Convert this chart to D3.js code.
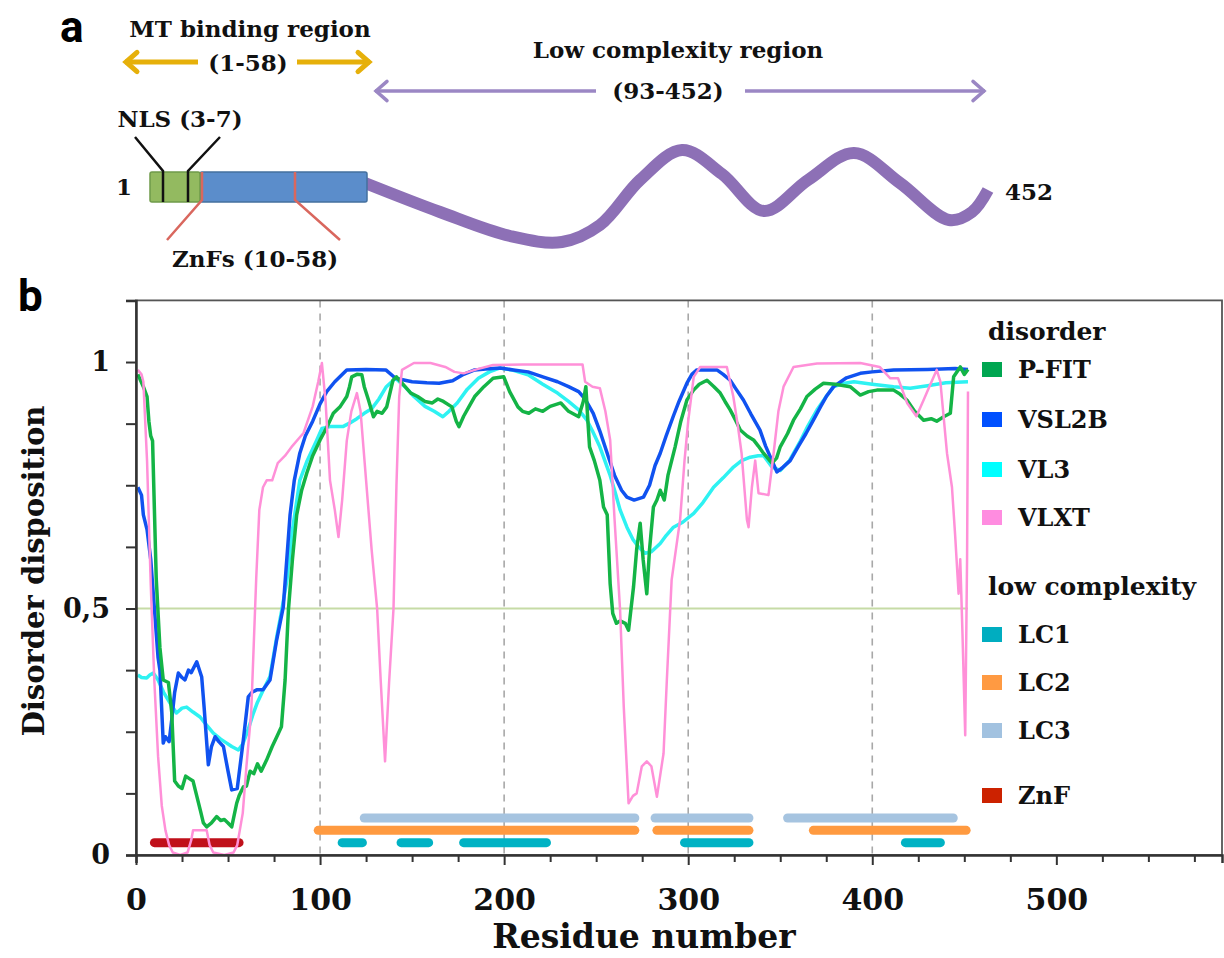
<!DOCTYPE html>
<html>
<head>
<meta charset="utf-8">
<script src="https://cdn.jsdelivr.net/npm/d3@7"></script>
<style>
  body { margin: 0; background: #fff; }
  svg { display: block; }
  .serif { font-family: "DejaVu Serif", serif; font-weight: bold; fill: #111; }
</style>
</head>
<body>
<div id="chart"></div>
<script>
// canvas
const width = 1224;
const height = 958;

// ---- data ----
// disorder predictors: [residue, disorder score]
const pfit = [[1,0.975],[4,0.95],[6,0.93],[7,0.88],[8,0.85],[9,0.84],[10,0.7],[11,0.56],[13,0.42],[14.8,0.355],[17.6,0.35],[19.4,0.29],[21,0.15],[23,0.14],[25,0.135],[27,0.16],[29,0.155],[31,0.15],[33,0.12],[35,0.09],[36.6,0.065],[38.4,0.057],[41,0.065],[43.8,0.078],[46,0.07],[48,0.072],[50,0.065],[52,0.057],[54.7,0.105],[56,0.12],[58.3,0.138],[60,0.14],[62,0.17],[64,0.165],[66,0.185],[68,0.17],[71,0.193],[74,0.22],[76.5,0.24],[79,0.26],[81,0.355],[82.8,0.497],[85,0.6],[87.3,0.69],[90,0.74],[92.8,0.775],[96,0.81],[100,0.842],[104,0.87],[107.2,0.896],[111,0.91],[114.5,0.93],[116,0.95],[117.2,0.97],[120,0.975],[122.7,0.974],[124,0.95],[126.3,0.923],[129,0.889],[131,0.9],[133.7,0.896],[136.2,0.909],[139.6,0.963],[141.5,0.97],[145,0.955],[149.3,0.937],[153,0.93],[157,0.92],[161,0.917],[164,0.925],[167,0.92],[171.6,0.909],[174,0.88],[175.5,0.869],[178,0.89],[181,0.91],[184,0.93],[189,0.95],[194,0.967],[199.8,0.97],[203,0.94],[207.5,0.909],[210,0.9],[213.4,0.896],[217,0.905],[221,0.9],[225,0.91],[230.8,0.917],[235,0.9],[240.5,0.889],[243,0.92],[244.4,0.95],[245.5,0.88],[246.4,0.828],[249,0.8],[252,0.76],[254,0.706],[256,0.69],[257.6,0.55],[259,0.49],[261,0.47],[263,0.475],[265.8,0.47],[267.6,0.456],[270.3,0.544],[272,0.62],[273.9,0.673],[275.5,0.6],[277.5,0.53],[279,0.62],[281.1,0.706],[283,0.72],[284.8,0.74],[287,0.72],[289,0.77],[292.9,0.828],[296,0.88],[299.3,0.923],[302.9,0.943],[306,0.955],[310.2,0.963],[314,0.95],[317.4,0.937],[320,0.92],[322.8,0.903],[326,0.88],[328.3,0.862],[332,0.85],[335.5,0.842],[338,0.83],[340.9,0.815],[345.5,0.795],[348,0.805],[350,0.828],[354,0.855],[357.2,0.882],[361,0.905],[364.5,0.93],[369,0.945],[373.5,0.957],[380,0.955],[388,0.95],[393.5,0.933],[398,0.94],[402.5,0.943],[411.6,0.943],[415,0.935],[418.8,0.923],[423,0.9],[427.9,0.882],[432,0.885],[435,0.88],[438.8,0.889],[442.4,0.896],[444.2,0.97],[447.8,0.99],[450,0.975],[452,0.985]];

const vsl2b = [[1,0.746],[3,0.73],[4,0.69],[6,0.66],[8,0.6],[10,0.5],[12,0.4],[13,0.375],[14.8,0.227],[16,0.24],[18,0.23],[19.4,0.274],[21,0.33],[23,0.369],[25,0.36],[26.6,0.355],[28.5,0.375],[30,0.37],[33,0.392],[35.7,0.361],[37,0.3],[39.3,0.183],[41,0.22],[43,0.24],[45,0.23],[47.5,0.22],[50,0.17],[52,0.132],[55,0.135],[58.3,0.233],[61,0.321],[63,0.33],[65.6,0.335],[69,0.335],[72.8,0.355],[76.4,0.436],[80,0.503],[83.7,0.69],[86,0.76],[89,0.815],[92,0.85],[96,0.88],[100,0.915],[103.6,0.94],[108,0.96],[114.5,0.984],[125,0.985],[135.7,0.984],[141,0.967],[150,0.96],[158,0.958],[164.7,0.957],[172,0.962],[178,0.975],[184,0.984],[190,0.986],[197.8,0.988],[205,0.984],[213,0.98],[221,0.97],[229,0.96],[235,0.95],[240.5,0.94],[244,0.925],[248.4,0.896],[252,0.86],[256,0.815],[260,0.77],[263.8,0.74],[266.7,0.726],[270.6,0.72],[275.7,0.726],[279,0.75],[282,0.79],[284.8,0.815],[288,0.85],[291.9,0.89],[295,0.92],[299.3,0.957],[302,0.975],[304.7,0.984],[315.6,0.984],[319,0.975],[322.8,0.963],[326,0.945],[330,0.923],[334,0.895],[339,0.862],[342,0.83],[345.5,0.8],[348.2,0.777],[351,0.785],[355.4,0.8],[360,0.83],[364,0.855],[368,0.882],[372,0.91],[375,0.93],[379,0.95],[386,0.968],[393.5,0.977],[400,0.98],[411.6,0.984],[430,0.985],[445,0.987],[452,0.985]];

const vl3 = [[1,0.365],[3,0.36],[5.8,0.359],[7.5,0.365],[9.4,0.369],[12,0.355],[15,0.33],[18.5,0.308],[22,0.288],[25,0.298],[27.5,0.3],[31,0.29],[34.8,0.28],[38,0.265],[42,0.247],[46,0.235],[49.3,0.227],[52,0.22],[55.6,0.213],[58,0.225],[61,0.255],[63.8,0.288],[66,0.31],[69.2,0.335],[72.8,0.362],[76.5,0.443],[79.2,0.497],[82,0.558],[85,0.66],[89,0.76],[93,0.8],[98,0.84],[101,0.865],[105.4,0.869],[112.4,0.869],[116,0.876],[120,0.885],[124,0.896],[128,0.905],[132,0.925],[136,0.95],[141,0.967],[146,0.95],[151,0.93],[157,0.91],[162,0.9],[166.7,0.889],[170,0.9],[174.5,0.917],[180,0.945],[186,0.967],[192,0.98],[197.8,0.988],[205,0.983],[213,0.974],[221,0.955],[229,0.937],[235,0.92],[240.5,0.903],[245,0.882],[248,0.86],[252,0.828],[257.6,0.77],[260,0.74],[263,0.7],[266.7,0.665],[270,0.64],[273,0.625],[276.6,0.612],[280,0.615],[284.8,0.632],[288,0.648],[292,0.665],[297,0.675],[303,0.693],[308,0.715],[313.8,0.746],[319,0.765],[324.6,0.787],[329,0.8],[333.7,0.807],[338,0.81],[341,0.81],[343,0.8],[345.5,0.787],[350,0.78],[355,0.8],[361,0.84],[365,0.87],[370,0.903],[375,0.93],[379,0.95],[385,0.957],[390,0.96],[400,0.955],[411.6,0.95],[420.6,0.947],[430,0.952],[440,0.958],[452,0.96]];

const vlxt = [[1,0.984],[3,0.975],[4,0.96],[6,0.8],[8,0.55],[10,0.35],[12,0.2],[14,0.1],[16,0.05],[18,0.02],[20,0.005],[24,0.0],[28,0.005],[30,0.03],[31,0.05],[35,0.05],[38.4,0.05],[40,0.02],[42,0.005],[48,0.0],[53,0.005],[55,0.02],[58,0.085],[60,0.18],[62.6,0.29],[65.3,0.56],[67,0.7],[69,0.746],[71,0.76],[74,0.76],[77,0.795],[81,0.81],[85,0.83],[91,0.856],[96,0.91],[99,0.96],[101,0.998],[103,0.92],[105.4,0.76],[108,0.7],[110,0.645],[112,0.72],[114.5,0.84],[117,0.9],[120,0.937],[122,0.9],[125,0.76],[128,0.62],[131,0.5],[133,0.35],[135.3,0.19],[137.5,0.35],[139.9,0.5],[141.5,0.75],[143,0.93],[144.5,0.984],[151,0.998],[160,0.998],[168,0.99],[173,0.98],[178,0.977],[185,0.985],[194,0.994],[210,0.995],[230,0.995],[242.6,0.995],[244,0.96],[248,0.95],[252,0.947],[255,0.9],[257.6,0.842],[260,0.68],[263,0.497],[265,0.3],[267.6,0.105],[270,0.12],[272,0.125],[274.8,0.18],[277.5,0.19],[280,0.18],[283,0.118],[286.6,0.206],[288.4,0.355],[291,0.558],[295.6,0.68],[298,0.8],[300,0.88],[303,0.97],[306.5,0.99],[321,0.99],[324.5,0.93],[327,0.87],[329,0.815],[331.9,0.68],[332.8,0.665],[334.6,0.746],[336.4,0.8],[338.2,0.734],[343.6,0.73],[346.4,0.815],[349,0.9],[351.8,0.95],[357.2,0.99],[370,0.997],[393.5,0.998],[404,0.99],[409.8,0.967],[414,0.967],[418.9,0.917],[424,0.89],[427.9,0.923],[431,0.95],[435,0.984],[437,0.96],[440.6,0.815],[443.3,0.746],[445,0.65],[446.9,0.53],[447.8,0.6],[449,0.45],[450.5,0.243],[451.5,0.6],[452,0.94]];

// low complexity / ZnF segments: [start, end] residues
const lc1Segments = [[112,123],[144,159],[178,223],[298,333],[418,437]];
const lc2Segments = [[99,271],[283,333],[368,451]];
const lc3Segments = [[124,271],[282,333],[354,444]];
const znfSegments = [[10,56]];
// level each segment row sits at
const segLevels = { LC1: 0.025, LC2: 0.05, LC3: 0.075, ZnF: 0.025 };

const disorderNames = ["P-FIT", "VSL2B", "VL3", "VLXT"];
const complexityNames = ["LC1", "LC2", "LC3"];

const xTicks = d3.range(0, 576, 25);
const xLabels = [0, 100, 200, 300, 400, 500];
const yTicks = d3.range(0, 1.126, 0.125);
const yLabels = { 0: "0", 0.5: "0,5", 1: "1" };
const gridResidues = [100, 200, 300, 400];
const threshold = 0.5;
const proteinLength = 452;

const lineColors = { "P-FIT": "#14b446", "VSL2B": "#1052f0", "VL3": "#2ef2f2", "VLXT": "#ff90d8" };
const swatchColors = { "P-FIT": "#00a651", "VSL2B": "#0050ff", "VL3": "#00ffff", "VLXT": "#ff8ce0",
                       "LC1": "#00adc0", "LC2": "#ff9a42", "LC3": "#a2c2e0", "ZnF": "#cc2200" };
const segColors = { LC1: "#00b2c4", LC2: "#ff9a40", LC3: "#a6c4e0", ZnF: "#c0101a" };

const svg = d3.select("#chart").append("svg")
  .attr("width", width)
  .attr("height", height);

svg.append("rect").attr("width", width).attr("height", height).attr("fill", "#fff");

// ================= panel a: schematic =================
const pa = svg.append("g");

pa.append("text").attr("x", 60).attr("y", 42)
  .style("font-family", "Roboto, sans-serif").style("font-weight", "bold")
  .style("font-size", "44px").text("a");

function arrow(g, x1, x2, gapL, gapR, yy, color, sw, head) {
  g.append("line").attr("x1", x1).attr("x2", gapL).attr("y1", yy).attr("y2", yy)
    .attr("stroke", color).attr("stroke-width", sw);
  g.append("line").attr("x1", gapR).attr("x2", x2).attr("y1", yy).attr("y2", yy)
    .attr("stroke", color).attr("stroke-width", sw);
  g.append("path").attr("d", `M${x1 + head},${yy - head * 0.8} L${x1 + 1},${yy} L${x1 + head},${yy + head * 0.8}`)
    .attr("fill", "none").attr("stroke", color).attr("stroke-width", sw).attr("stroke-linecap", "round");
  g.append("path").attr("d", `M${x2 - head},${yy - head * 0.8} L${x2 - 1},${yy} L${x2 - head},${yy + head * 0.8}`)
    .attr("fill", "none").attr("stroke", color).attr("stroke-width", sw).attr("stroke-linecap", "round");
}

pa.append("text").attr("class", "serif").attr("x", 250).attr("y", 37)
  .attr("text-anchor", "middle").style("font-size", "23px").text("MT binding region");
pa.append("text").attr("class", "serif").attr("x", 248).attr("y", 71)
  .attr("text-anchor", "middle").style("font-size", "23px").text("(1-58)");
arrow(pa, 125, 370, 198, 297, 62, "#e6b00a", 5, 12);

pa.append("text").attr("class", "serif").attr("x", 678).attr("y", 58)
  .attr("text-anchor", "middle").style("font-size", "23px").text("Low complexity region");
pa.append("text").attr("class", "serif").attr("x", 668).attr("y", 99)
  .attr("text-anchor", "middle").style("font-size", "23px").text("(93-452)");
arrow(pa, 375, 985, 596, 745, 91, "#9b87c4", 3.5, 12);

// disordered tail
const wave = [[365,183],[440,212],[510,236],[562,242],[600,225],[640,180],[682,150],[722,174],
              [764,211],[808,180],[854,153],[900,183],[949,220],[972,212],[988,190]];
pa.append("path")
  .attr("d", d3.line().curve(d3.curveCatmullRom)(wave))
  .attr("fill", "none").attr("stroke", "#8d70b6").attr("stroke-width", 12);

// folded N-terminus
pa.append("rect").attr("x", 200).attr("y", 172).attr("width", 167).attr("height", 30)
  .attr("fill", "#5b8dcb").attr("stroke", "#44709f").attr("stroke-width", 1.5).attr("rx", 2);
pa.append("rect").attr("x", 150).attr("y", 172).attr("width", 50).attr("height", 30)
  .attr("fill", "#93ba60").attr("stroke", "#6f9a4a").attr("stroke-width", 1.5).attr("rx", 2);

// NLS marks
pa.append("path").attr("d", "M135,137 L163,171 L163,202 M220,137 L188,171 L188,202")
  .attr("fill", "none").attr("stroke", "#111").attr("stroke-width", 2.5);
// ZnF marks
pa.append("path").attr("d", "M202,172 L202,200 L167,240 M295,172 L295,200 L340,240")
  .attr("fill", "none").attr("stroke", "#d9675e").attr("stroke-width", 2.5);

pa.append("text").attr("class", "serif").attr("x", 180).attr("y", 127)
  .attr("text-anchor", "middle").style("font-size", "23px").text("NLS (3-7)");
pa.append("text").attr("class", "serif").attr("x", 255).attr("y", 267)
  .attr("text-anchor", "middle").style("font-size", "23px").text("ZnFs (10-58)");
pa.append("text").attr("class", "serif").attr("x", 132).attr("y", 195)
  .attr("text-anchor", "end").style("font-size", "23px").text("1");
pa.append("text").attr("class", "serif").attr("x", 1005).attr("y", 200)
  .style("font-size", "23px").text("452");

// ================= panel b: disorder plot =================
svg.append("text").attr("x", 18).attr("y", 311)
  .style("font-family", "Roboto, sans-serif").style("font-weight", "bold")
  .style("font-size", "44px").text("b");

const x = d3.scaleLinear().domain([0, 590]).range([136, 1222]);
const y = d3.scaleLinear().domain([0, 1.125]).range([855, 300.4]);

// vertical dashed grid
svg.append("g").selectAll("line").data(gridResidues).join("line")
  .attr("x1", d => x(d)).attr("x2", d => x(d))
  .attr("y1", y(1.125)).attr("y2", y(0))
  .attr("stroke", "#a8a8a8").attr("stroke-width", 1.6).attr("stroke-dasharray", "7,6");

// 0.5 threshold
svg.append("line")
  .attr("x1", x(0)).attr("x2", x(proteinLength))
  .attr("y1", y(threshold)).attr("y2", y(threshold))
  .attr("stroke", "#c6dba6").attr("stroke-width", 2.2);

// segments
const segRows = [["LC3", lc3Segments], ["LC2", lc2Segments], ["LC1", lc1Segments], ["ZnF", znfSegments]];
segRows.forEach(([name, segs]) => {
  svg.append("g").selectAll("line").data(segs).join("line")
    .attr("x1", d => x(d[0])).attr("x2", d => x(d[1]))
    .attr("y1", y(segLevels[name])).attr("y2", y(segLevels[name]))
    .attr("stroke", segColors[name]).attr("stroke-width", 9).attr("stroke-linecap", "round");
});

// disorder curves
const line = d3.line().x(d => x(d[0])).y(d => y(d[1]));
const series = [["VL3", vl3, 3.5], ["VSL2B", vsl2b, 3.5], ["P-FIT", pfit, 3.5], ["VLXT", vlxt, 2.5]];
series.forEach(([name, data, sw]) => {
  svg.append("path").datum(data)
    .attr("d", line)
    .attr("fill", "none")
    .attr("stroke", lineColors[name])
    .attr("stroke-width", sw)
    .attr("stroke-linejoin", "round");
});

// frame
svg.append("rect")
  .attr("x", x(0)).attr("y", y(1.125))
  .attr("width", x(590) - x(0)).attr("height", y(0) - y(1.125))
  .attr("fill", "none").attr("stroke", "#555").attr("stroke-width", 1.8);

// axes
const xAxis = svg.append("g").attr("transform", `translate(0,${y(0)})`)
  .call(d3.axisBottom(x).tickValues(xTicks).tickSize(8)
    .tickFormat(d => xLabels.includes(d) ? d : ""));
xAxis.select(".domain").attr("stroke", "#333").attr("stroke-width", 2.5);
xAxis.selectAll(".tick line").attr("stroke", "#333").attr("stroke-width", 2)
  .attr("y2", d => d % 100 === 0 ? 10 : 7);
xAxis.selectAll("text").attr("class", "serif").attr("y", 55).attr("dy", 0)
  .style("font-size", "30px").attr("fill", "#111");

const yAxis = svg.append("g").attr("transform", `translate(${x(0)},0)`)
  .call(d3.axisLeft(y).tickValues(yTicks).tickSize(10)
    .tickFormat(d => yLabels[d] !== undefined ? yLabels[d] : ""));
yAxis.select(".domain").attr("stroke", "#333").attr("stroke-width", 2.5);
yAxis.selectAll(".tick line").attr("stroke", "#333").attr("stroke-width", 2);
yAxis.selectAll("text").attr("class", "serif").attr("x", -26)
  .style("font-size", "27px").attr("fill", "#111");

svg.append("text").attr("class", "serif")
  .attr("x", 644).attr("y", 948).attr("text-anchor", "middle")
  .style("font-size", "33px").text("Residue number");

svg.append("text").attr("class", "serif")
  .attr("transform", "translate(44,571) rotate(-90)")
  .attr("text-anchor", "middle")
  .style("font-size", "29px").text("Disorder disposition");

// legend
const leg = svg.append("g");
leg.append("text").attr("class", "serif").attr("x", 988).attr("y", 340)
  .style("font-size", "25px").text("disorder");
leg.append("text").attr("class", "serif").attr("x", 988).attr("y", 595)
  .style("font-size", "25px").text("low complexity");

const legendRows = [
  ["P-FIT", 362], ["VSL2B", 412], ["VL3", 462], ["VLXT", 510],
  ["LC1", 627], ["LC2", 675], ["LC3", 723], ["ZnF", 788]
];
legendRows.forEach(([name, top]) => {
  leg.append("rect").attr("x", 982).attr("y", top).attr("width", 20).attr("height", 15)
    .attr("fill", swatchColors[name]);
  leg.append("text").attr("class", "serif").attr("x", 1018).attr("y", top + 16)
    .style("font-size", "24px").text(name);
});
</script>
</body>
</html>
